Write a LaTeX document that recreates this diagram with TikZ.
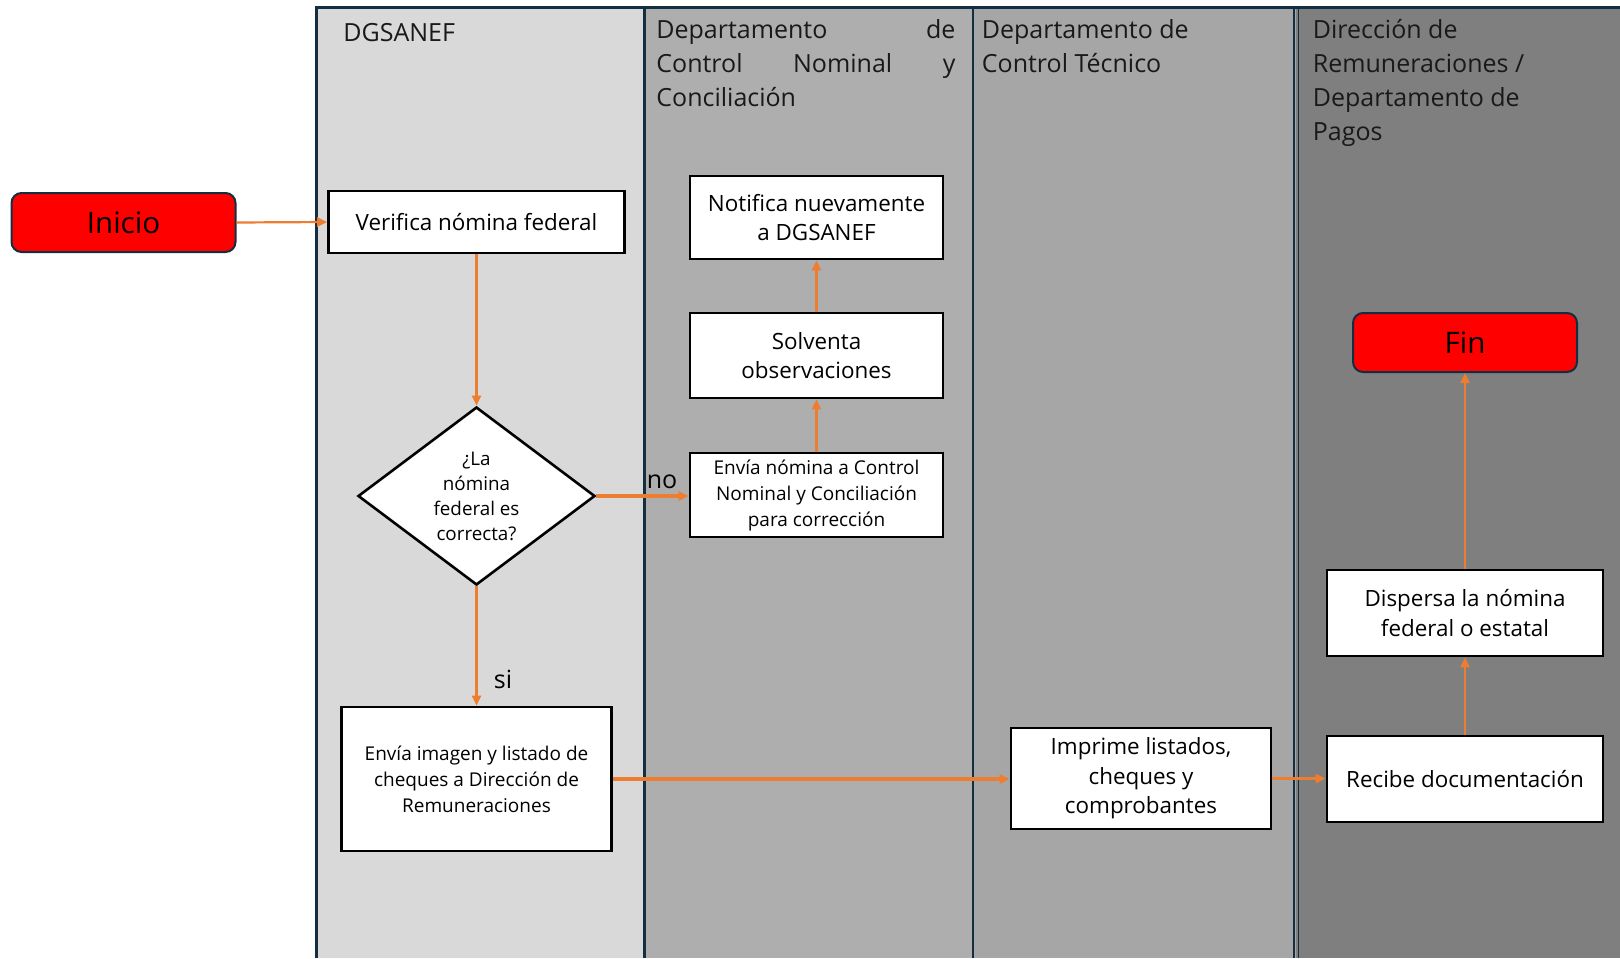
\documentclass[tikz,border=0pt]{standalone}
\usepackage{fontspec}
\setmainfont{Open Sans}
\usetikzlibrary{shapes.geometric,arrows.meta}

\definecolor{laneA}{HTML}{D9D9D9}
\definecolor{laneB}{HTML}{AEAEAE}
\definecolor{laneC}{HTML}{A6A6A6}
\definecolor{laneD}{HTML}{7F7F7F}
\definecolor{laneline}{HTML}{122E40}
\definecolor{termred}{HTML}{FF0000}
\definecolor{flowor}{HTML}{ED7D31}

\begin{document}
\begin{tikzpicture}[x=0.5pt,y=-0.5pt,
  sz/.style 2 args={minimum width=#1*0.5pt,minimum height=#2*0.5pt},
  proc/.style={draw=black,line width=1.3pt,fill=white,align=center,inner sep=2pt,text=black},
  bigtxt/.style={font=\fontsize{11.2}{14.8}\selectfont},
  smalltxt/.style={font=\fontsize{9.5}{13}\selectfont},
  tinytxt/.style={font=\fontsize{9.4}{12.5}\selectfont},
  term/.style={draw=laneline,line width=1pt,fill=termred,rounded corners=5pt,
    text=black,font=\fontsize{14.8}{17}\selectfont},
  lanehead/.style={anchor=base west,inner sep=0pt,text=black!90,
    font=\fontsize{12.5}{17}\selectfont},
  flow/.style={draw=flowor,line width=1.1pt,-{Triangle[length=5pt,width=4.5pt]}},
  mainflow/.style={flow,line width=1.6pt},
  lbl/.style={anchor=base,inner sep=0pt,text=black,font=\fontsize{12.5}{15}\selectfont}
]
\useasboundingbox (0,0) rectangle (1620,958);

% swimlane backgrounds
\fill[laneA] (316,7) rectangle (644.5,958);
\fill[laneB] (644.5,7) rectangle (973,958);
\fill[laneC] (973,7) rectangle (1296,958);
\fill[laneD] (1296,7) rectangle (1620,958);

% swimlane borders
\draw[laneline,line width=1.5pt] (316,958) -- (316,7) -- (1620,7);
\draw[laneline,line width=1.5pt] (644.5,7) -- (644.5,958);
\draw[laneline,line width=1pt] (973,7) -- (973,958);
\draw[laneline,line width=0.8pt] (1294,7) -- (1294,958);
\draw[laneline,line width=0.8pt] (1298.5,7) -- (1298.5,958);

% lane titles
\node[lanehead] (hA) at (343,41.5) {DGSANEF};
\node[lanehead] (hB1) at (656,38) {\hbox to 149.5pt{Departamento\hfill de}};
\node[lanehead] (hB2) at (656,72) {\hbox to 149.5pt{Control\hfill Nominal\hfill y}};
\node[lanehead] (hB3) at (656,106) {Conciliación};
\node[lanehead] (hC1) at (981.5,38) {Departamento de};
\node[lanehead] (hC2) at (981.5,72) {Control Técnico};
\node[lanehead] (hD1) at (1312.5,38) {Dirección de};
\node[lanehead] (hD2) at (1312.5,72) {Remuneraciones /};
\node[lanehead] (hD3) at (1312.5,106) {Departamento de};
\node[lanehead] (hD4) at (1312.5,140) {Pagos};

% flow nodes
\node[term,sz={224}{59}] (inicio) at (123.5,222.5) {Inicio};
\node[proc,bigtxt,sz={296}{62}] (verif) at (476.5,222) {Verifica nómina federal};
\node[draw=black,line width=1.3pt,fill=white,diamond,aspect=1.33,inner sep=0pt,
  sz={237}{178},align=center,tinytxt] (dec) at (476.5,496)
  {¿La\\nómina\\federal es\\correcta?};
\node[proc,smalltxt,sz={253}{84}] (envn) at (816.5,495)
  {Envía nómina a Control\\Nominal y Conciliación\\para corrección};
\node[proc,bigtxt,sz={253}{85}] (solv) at (816.5,355.5) {Solventa\\observaciones};
\node[proc,bigtxt,sz={253}{83}] (notif) at (816.5,217.5) {Notifica nuevamente\\a DGSANEF};
\node[proc,smalltxt,sz={270}{144}] (envi) at (476.5,779)
  {Envía imagen y listado de\\cheques a Dirección de\\Remuneraciones};
\node[proc,bigtxt,sz={260}{101}] (impr) at (1141,778.5)
  {Imprime listados,\\cheques y\\comprobantes};
\node[proc,bigtxt,sz={276}{86}] (recibe) at (1465,779) {Recibe documentación};
\node[proc,bigtxt,sz={276}{86}] (disp) at (1465,613) {Dispersa la nómina\\federal o estatal};
\node[term,sz={224}{59}] (fin) at (1465,342.5) {Fin};

% branch labels
\node[lbl] (lno) at (662,488) {no};
\node[lbl] (lsi) at (503,688) {si};

% connectors
\draw[flow] (inicio.east) -- (verif.west);
\draw[flow] (verif.south) -- (dec.north);
\draw[mainflow] (dec.east) -- (dec.east -| envn.west);
\draw[flow] (envn.north) -- (solv.south);
\draw[flow] (solv.north) -- (notif.south);
\draw[flow] (dec.south) -- (envi.north);
\draw[mainflow] (envi.east) -- (envi.east -| impr.west);
\draw[mainflow] (impr.east) -- (impr.east -| recibe.west);
\draw[flow] (recibe.north) -- (disp.south);
\draw[flow] (disp.north) -- (fin.south);
\end{tikzpicture}
\end{document}
